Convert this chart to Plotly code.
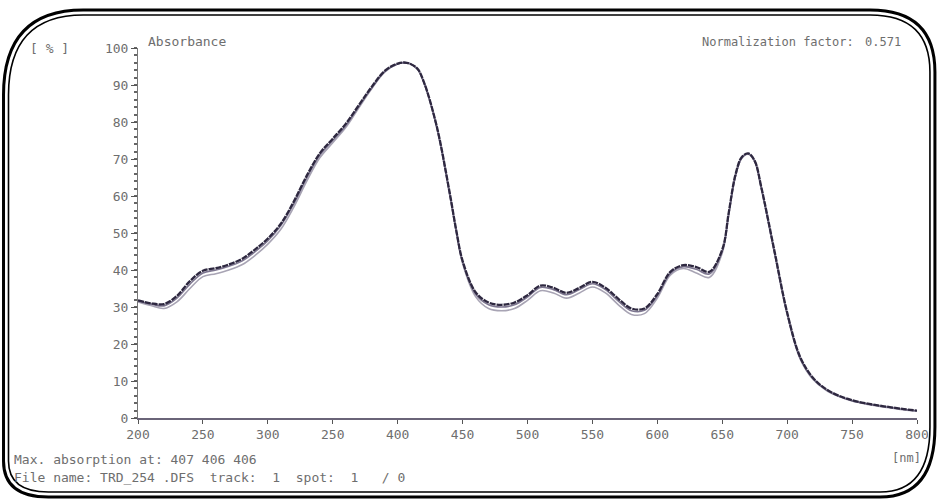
import plotly.graph_objects as go

# Wavelength grid (nm) and absorbance (% of max) for the three scanned tracks
wavelength = [200, 210, 220, 230, 240, 250, 260, 270, 280, 290, 300, 310, 320, 330, 340,
              350, 360, 370, 380, 390, 400, 407, 415, 420, 430, 440, 445, 450, 460, 470,
              480, 490, 500, 510, 520, 530, 540, 550, 560, 570, 580, 590, 600, 610, 620,
              630, 640, 650, 655, 660, 665, 670, 675, 680, 690, 700, 710, 720, 730, 740,
              750, 760, 770, 780, 790, 800]
track_a = [31.8, 31.0, 30.8, 33.0, 37.0, 39.8, 40.5, 41.5, 43.0, 45.5, 48.5, 52.5, 58.5, 65.5, 71.5,
           75.5, 79.5, 84.5, 89.5, 93.8, 95.8, 96.0, 94.5, 91.0, 79.0, 61.0, 51.0, 42.5, 34.0, 31.2,
           30.6, 31.2, 33.2, 35.8, 35.2, 33.8, 35.2, 36.8, 35.2, 32.2, 29.6, 29.6, 33.5, 39.5, 41.3,
           40.8, 39.5, 45.5, 55.5, 65.5, 70.5, 71.5, 69.5, 62.5, 45.5, 28.5, 16.5, 10.8, 7.8, 6.0,
           4.8, 4.0, 3.4, 2.9, 2.4, 2.0]
track_b = [31.4, 30.4, 29.6, 31.4, 35.0, 38.2, 39.0, 40.0, 41.4, 43.9, 47.0, 51.0, 57.0, 64.0, 70.3,
           74.4, 78.5, 83.8, 89.0, 93.5, 95.7, 96.0, 94.4, 90.8, 78.6, 60.5, 50.5, 41.8, 32.8, 29.6,
           29.0, 29.6, 31.8, 34.4, 33.8, 32.4, 33.8, 35.4, 33.8, 30.6, 28.0, 28.2, 32.4, 38.6, 40.4,
           39.2, 38.0, 44.6, 55.0, 65.0, 70.2, 71.3, 69.3, 62.2, 45.0, 28.0, 16.0, 10.4, 7.5, 5.8,
           4.6, 3.8, 3.2, 2.7, 2.2, 1.9]
track_c = [31.6, 30.8, 30.3, 32.4, 36.2, 39.2, 40.0, 41.0, 42.4, 44.9, 47.9, 52.0, 57.9, 64.9, 71.0,
           75.0, 79.0, 84.2, 89.2, 93.6, 95.7, 96.0, 94.4, 90.9, 78.8, 60.8, 50.8, 42.2, 33.5, 30.6,
           30.0, 30.6, 32.7, 35.3, 34.7, 33.3, 34.7, 36.3, 34.7, 31.6, 29.0, 29.1, 33.0, 39.1, 40.9,
           40.2, 38.9, 45.1, 55.2, 65.2, 70.3, 71.4, 69.4, 62.3, 45.2, 28.2, 16.2, 10.6, 7.6, 5.9,
           4.7, 3.9, 3.3, 2.8, 2.3, 1.95]

x_ticks = [200, 250, 300, 350, 400, 450, 500, 550, 600, 650, 700, 750, 800]
x_tick_labels = ["200", "250", "300", "250", "400", "450", "500", "550", "600", "650", "700", "750", "800"]
y_ticks = [0, 10, 20, 30, 40, 50, 60, 70, 80, 90, 100]
y_tick_labels = ["0", "10", "20", "30", "40", "50", "60", "70", "80", "90", "100"]

W, H = 941, 502
L, R, T, B = 138, 920, 48, 418  # plot area in pixels

MONO = "DejaVu Sans Mono"
TXT = "#6e6e6e"


def paper(px, py):
    return (px - L) / (R - L), (B - py) / (B - T)


fig = go.Figure()
fig.add_trace(go.Scatter(x=wavelength, y=track_b, mode="lines", line_shape="spline",
                         line=dict(color="#a8a4b4", width=1.6), hoverinfo="skip"))
fig.add_trace(go.Scatter(x=wavelength, y=track_c, mode="lines", line_shape="spline",
                         line=dict(color="#7d7690", width=1.6), hoverinfo="skip"))
fig.add_trace(go.Scatter(x=wavelength, y=track_a, mode="lines", line_shape="spline",
                         line=dict(color="#2e2840", width=2.3, dash="6px,1px"), hoverinfo="skip"))


def rounded_path(x0, y0, x1, y1, r_tl, r_tr, r_br, r_bl):
    pts = []

    def p(x, y):
        a, b = paper(x, y)
        return f"{a:.5f},{b:.5f}"

    pts.append("M " + p(x0 + r_tl[0], y0))
    pts.append("L " + p(x1 - r_tr[0], y0))
    pts.append("Q " + p(x1, y0) + " " + p(x1, y0 + r_tr[1]))
    pts.append("L " + p(x1, y1 - r_br[1]))
    pts.append("Q " + p(x1, y1) + " " + p(x1 - r_br[0], y1))
    pts.append("L " + p(x0 + r_bl[0], y1))
    pts.append("Q " + p(x0, y1) + " " + p(x0, y1 - r_bl[1]))
    pts.append("L " + p(x0, y0 + r_tl[1]))
    pts.append("Q " + p(x0, y0) + " " + p(x0 + r_tl[0], y0))
    return " ".join(pts) + " Z"


# double-line rounded frame
fig.add_shape(type="path", xref="paper", yref="paper",
              path=rounded_path(3, 10, 938, 497, (80, 85), (65, 62), (55, 70), (45, 36)),
              line=dict(color="black", width=3))
fig.add_shape(type="path", xref="paper", yref="paper",
              path=rounded_path(8, 15, 933, 492, (75, 80), (60, 57), (50, 65), (40, 31)),
              line=dict(color="black", width=1.6))


def label(text, px, py, size=13, anchor="left"):
    a, b = paper(px, py)
    fig.add_annotation(x=a, y=b, xref="paper", yref="paper", text=text, showarrow=False,
                       xanchor=anchor, yanchor="middle",
                       font=dict(family=MONO, size=size, color=TXT))


label("[ % ]", 28, 48)
label("Absorbance", 146, 42)
label("Normalization factor:", 702, 42, size=12)
label("0.571", 866, 42, size=12)
label("[nm]", 926, 458, size=12, anchor="right")
label("Max. absorption at: 407 406 406", 12, 459)
label("File name: TRD_254 .DFS  track:  1  spot:  1   / 0", 12, 477)

fig.update_layout(
    width=W, height=H,
    margin=dict(l=L, r=W - R, t=T, b=H - B, pad=0),
    paper_bgcolor="white", plot_bgcolor="white",
    showlegend=False,
    xaxis=dict(range=[200, 800], tickmode="array", tickvals=x_ticks, ticktext=x_tick_labels,
               showgrid=False, zeroline=False, showline=True, linecolor="#6a6478", linewidth=1.5,
               ticks="outside", ticklen=4, tickcolor="#555", tickwidth=1,
               tickfont=dict(family=MONO, size=13, color=TXT)),
    yaxis=dict(range=[0, 100], tickmode="array", tickvals=y_ticks, ticktext=y_tick_labels,
               showgrid=False, zeroline=False, showline=True, linecolor="#777", linewidth=1,
               ticks="outside", ticklen=6, tickcolor="#555", tickwidth=1,
               minor=dict(dtick=2, ticks="outside", ticklen=3, tickcolor="#666", tickwidth=1.5),
               tickfont=dict(family=MONO, size=13, color=TXT)),
)

fig.write_html("out.html")
